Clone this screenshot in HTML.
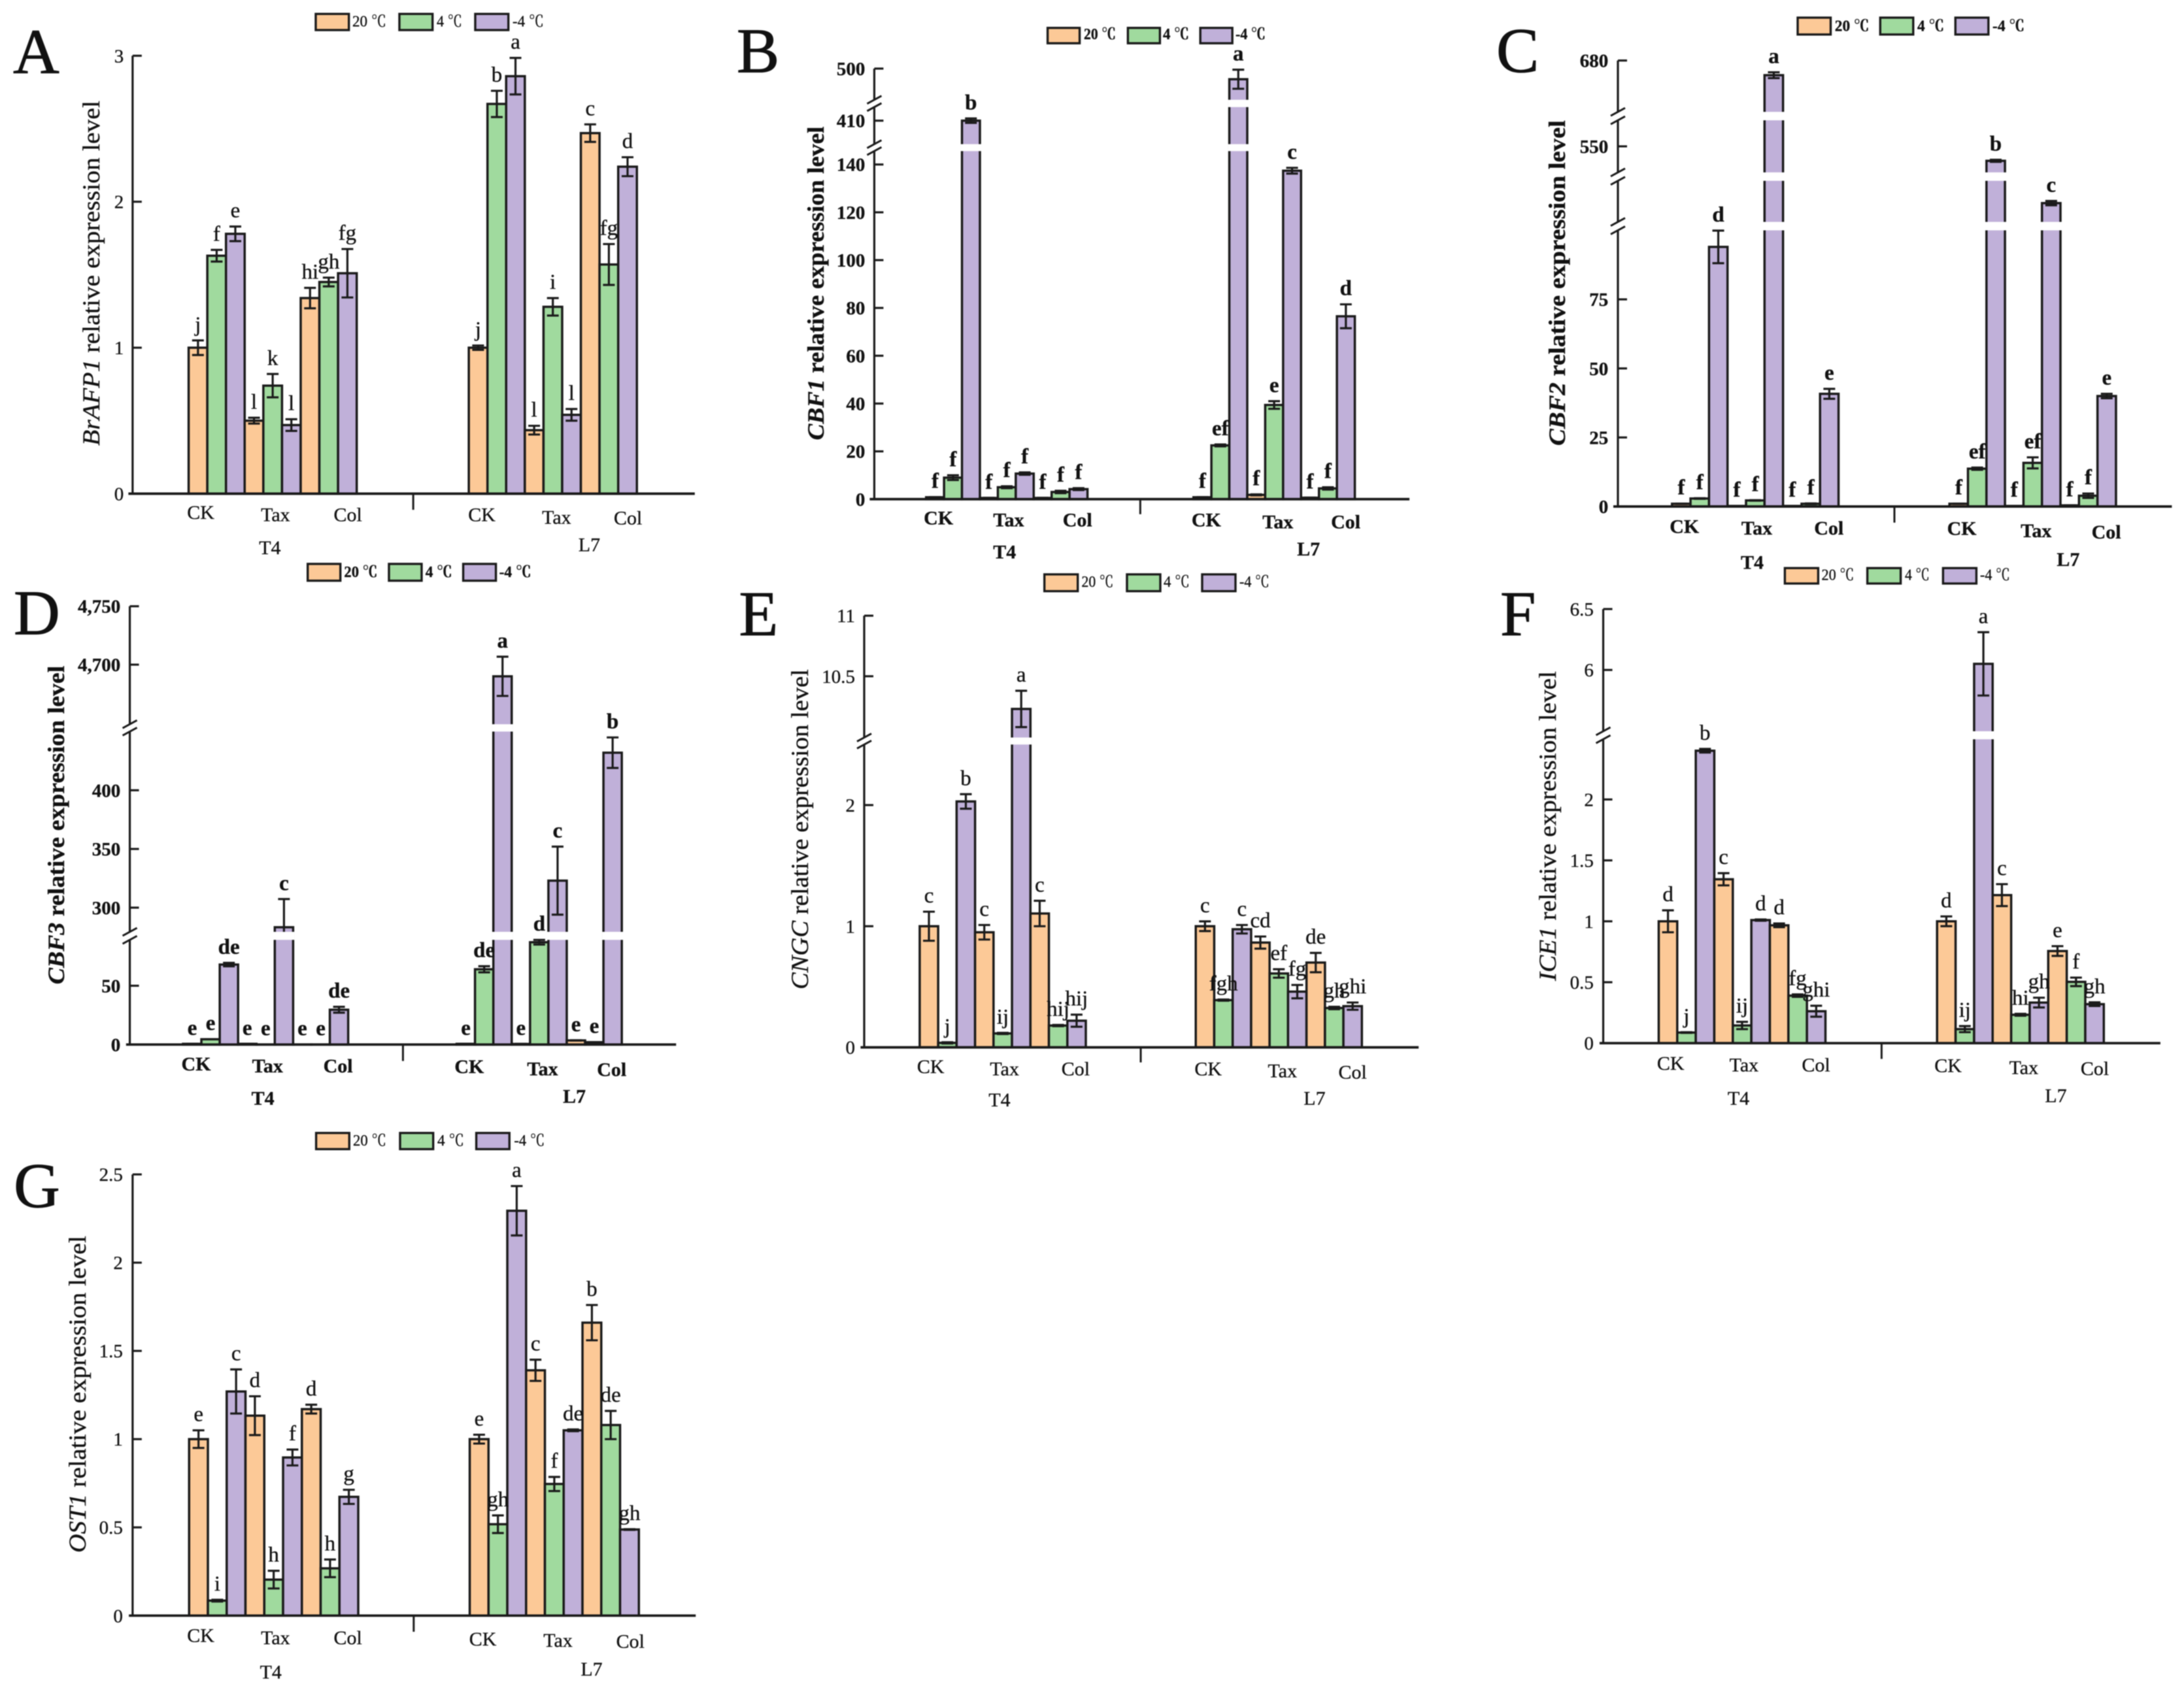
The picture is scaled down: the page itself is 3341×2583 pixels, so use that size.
<!DOCTYPE html>
<html lang="en">
<head>
<meta charset="utf-8">
<title>Relative expression levels of cold-response genes</title>
<style>
html,body{margin:0;padding:0;background:#fff;width:3341px;height:2583px;overflow:hidden}
svg{display:block;filter:blur(0.7px)}
text{font-family:"Liberation Serif","Noto Serif CJK SC",serif;fill:#111;stroke:#111;stroke-width:.35px}
.panel-letter{font-size:98px;stroke-width:1px}
.yt{font-size:37px}
.bold text,.bold{font-weight:bold}
.leg{font-size:24px}
.sw{stroke:#1a1a1a;stroke-width:3.4}
.o{fill:#FCC997}.g{fill:#A0DA9E}.p{fill:#C0B0D9}
</style>
</head>
<body>
<svg id="figure" xmlns="http://www.w3.org/2000/svg" width="3341" height="2583" viewBox="0 0 3341 2583">
<rect width="3341" height="2583" fill="#fff"/>

<g id="panel-a">
  <text class="panel-letter" x="20" y="112">A</text>
  <text class="yt" transform="translate(152,418) rotate(-90)" text-anchor="middle" textLength="528" lengthAdjust="spacingAndGlyphs"><tspan font-style="italic">BrAFP1</tspan> relative expression level</text>
  <g>
    <rect class="sw o" x="483" y="21.3" width="50.7" height="24.7"/><text class="leg" x="539" y="40.5" textLength="52" lengthAdjust="spacingAndGlyphs">20 ℃</text>
    <rect class="sw g" x="611" y="21.3" width="50.7" height="24.7"/><text class="leg" x="668" y="40.5" textLength="39" lengthAdjust="spacingAndGlyphs">4 ℃</text>
    <rect class="sw p" x="727" y="21.3" width="50.7" height="24.7"/><text class="leg" x="784" y="40.5" textLength="48" lengthAdjust="spacingAndGlyphs">-4 ℃</text>
  </g>
</g>

<g id="panel-b" class="bold">
  <text class="panel-letter" style="font-weight:normal" x="1127" y="110.6">B</text>
  <text class="yt" style="font-size:36px" transform="translate(1260,433.5) rotate(-90)" text-anchor="middle" textLength="480" lengthAdjust="spacingAndGlyphs"><tspan font-style="italic">CBF1</tspan> relative expression level</text>
  <g>
    <rect class="sw o" x="1602.6" y="42.7" width="49" height="23.5"/><text class="leg" x="1658" y="60" textLength="49" lengthAdjust="spacingAndGlyphs">20 ℃</text>
    <rect class="sw g" x="1725.4" y="42.7" width="49" height="23.5"/><text class="leg" x="1779" y="60" textLength="40" lengthAdjust="spacingAndGlyphs">4 ℃</text>
    <rect class="sw p" x="1836.2" y="42.7" width="49" height="23.5"/><text class="leg" x="1890" y="60" textLength="46" lengthAdjust="spacingAndGlyphs">-4 ℃</text>
  </g>
</g>

<g id="panel-c" class="bold">
  <text class="panel-letter" style="font-weight:normal" x="2289" y="110">C</text>
  <text class="yt" style="font-size:36px" transform="translate(2394,433) rotate(-90)" text-anchor="middle" textLength="498" lengthAdjust="spacingAndGlyphs"><tspan font-style="italic">CBF2</tspan> relative expression level</text>
  <g>
    <rect class="sw o" x="2750" y="27" width="50.5" height="25.8"/><text class="leg" x="2806.8" y="47.7" textLength="52.6" lengthAdjust="spacingAndGlyphs">20 ℃</text>
    <rect class="sw g" x="2876.3" y="27" width="50.5" height="25.8"/><text class="leg" x="2933" y="47.7" textLength="41" lengthAdjust="spacingAndGlyphs">4 ℃</text>
    <rect class="sw p" x="2991.3" y="27" width="50.5" height="25.8"/><text class="leg" x="3048" y="47.7" textLength="49" lengthAdjust="spacingAndGlyphs">-4 ℃</text>
  </g>
</g>

<g id="panel-d" class="bold">
  <text class="panel-letter" style="font-weight:normal" x="21" y="970.5">D</text>
  <text class="yt" style="font-size:36px" transform="translate(98,1262.5) rotate(-90)" text-anchor="middle" textLength="487.5" lengthAdjust="spacingAndGlyphs"><tspan font-style="italic">CBF3</tspan> relative expression level</text>
  <g>
    <rect class="sw o" x="470.7" y="862.9" width="50" height="25.7"/><text class="leg" x="526.4" y="883" textLength="51" lengthAdjust="spacingAndGlyphs">20 ℃</text>
    <rect class="sw g" x="595" y="862.9" width="50" height="25.7"/><text class="leg" x="650.7" y="883" textLength="41" lengthAdjust="spacingAndGlyphs">4 ℃</text>
    <rect class="sw p" x="708.6" y="862.9" width="50" height="25.7"/><text class="leg" x="763.6" y="883" textLength="49" lengthAdjust="spacingAndGlyphs">-4 ℃</text>
  </g>
</g>

<g id="panel-e">
  <text class="panel-letter" x="1130.5" y="972">E</text>
  <text class="yt" transform="translate(1236,1269) rotate(-90)" text-anchor="middle" textLength="490" lengthAdjust="spacingAndGlyphs"><tspan font-style="italic">CNGC</tspan> relative expression level</text>
  <g>
    <rect class="sw o" x="1597.7" y="878.9" width="51" height="25.7"/><text class="leg" x="1654.5" y="898" textLength="49" lengthAdjust="spacingAndGlyphs">20 ℃</text>
    <rect class="sw g" x="1724" y="878.9" width="51" height="25.7"/><text class="leg" x="1780" y="898" textLength="40" lengthAdjust="spacingAndGlyphs">4 ℃</text>
    <rect class="sw p" x="1839" y="878.9" width="51" height="25.7"/><text class="leg" x="1896" y="898" textLength="46" lengthAdjust="spacingAndGlyphs">-4 ℃</text>
  </g>
</g>

<g id="panel-f">
  <text class="panel-letter" x="2295" y="972">F</text>
  <text class="yt" transform="translate(2380,1264) rotate(-90)" text-anchor="middle" textLength="474" lengthAdjust="spacingAndGlyphs"><tspan font-style="italic">ICE1</tspan> relative expression level</text>
  <g>
    <rect class="sw o" x="2730.4" y="869.3" width="51" height="23.6"/><text class="leg" x="2786.5" y="887.5" textLength="50" lengthAdjust="spacingAndGlyphs">20 ℃</text>
    <rect class="sw g" x="2856.6" y="869.3" width="51" height="23.6"/><text class="leg" x="2914" y="887.5" textLength="38" lengthAdjust="spacingAndGlyphs">4 ℃</text>
    <rect class="sw p" x="2972.4" y="869.3" width="51" height="23.6"/><text class="leg" x="3029" y="887.5" textLength="46" lengthAdjust="spacingAndGlyphs">-4 ℃</text>
  </g>
</g>

<g id="panel-g">
  <text class="panel-letter" x="21" y="1847">G</text>
  <text class="yt" transform="translate(131,2133.5) rotate(-90)" text-anchor="middle" textLength="485" lengthAdjust="spacingAndGlyphs"><tspan font-style="italic">OST1</tspan> relative expression level</text>
  <g>
    <rect class="sw o" x="483.6" y="1733.7" width="50.7" height="24.7"/><text class="leg" x="540" y="1752.8" textLength="51" lengthAdjust="spacingAndGlyphs">20 ℃</text>
    <rect class="sw g" x="612" y="1733.7" width="50.7" height="24.7"/><text class="leg" x="669" y="1752.8" textLength="41" lengthAdjust="spacingAndGlyphs">4 ℃</text>
    <rect class="sw p" x="728.6" y="1733.7" width="50.7" height="24.7"/><text class="leg" x="786.4" y="1752.8" textLength="47" lengthAdjust="spacingAndGlyphs">-4 ℃</text>
  </g>
</g>
</svg>

<script>
// Shared categories. Series order in every array: T4 CK, T4 Tax, T4 Col, L7 CK, L7 Tax, L7 Col
const categories = ['CK', 'Tax', 'Col', 'CK', 'Tax', 'Col'];
const groups = ['T4', 'L7'];

// Panel A: BrAFP1
const aValues20 = [1.00, 0.50, 1.34, 1.00, 0.435, 2.47];
const aValues4 = [1.63, 0.74, 1.45, 2.67, 1.28, 1.57];
const aValuesM4 = [1.78, 0.47, 1.51, 2.86, 0.54, 2.24];
const aErrors20 = [0.05, 0.02, 0.07, 0.015, 0.03, 0.06];
const aErrors4 = [0.04, 0.08, 0.03, 0.09, 0.06, 0.14];
const aErrorsM4 = [0.05, 0.04, 0.166, 0.125, 0.04, 0.065];
const aLetters20 = ['j', 'l', 'hi', 'j', 'l', 'c'];
const aLetters4 = ['f', 'k', 'gh', 'b', 'i', 'fg'];
const aLettersM4 = ['e', 'l', 'fg', 'a', 'l', 'd'];
const aTicks = [0, 1, 2, 3];
const aTickLabels = ['0', '1', '2', '3'];

// Panel B: CBF1
const bValues20 = [0.8, 0.5, 0.5, 0.8, 1.8, 0.6];
const bValues4 = [9, 5, 3, 22.5, 39.4, 4.5];
const bValuesM4 = [410, 10.7, 4.2, 485.5, 137.4, 76.5];
const bErrors20 = [0.05, 0.05, 0.05, 0.05, 0.2, 0.05];
const bErrors4 = [1, 0.4, 0.5, 0.4, 1.6, 0.5];
const bErrorsM4 = [3, 0.5, 0.4, 13, 1.2, 5];
const bLetters20 = ['f', 'f', 'f', 'f', 'f', 'f'];
const bLetters4 = ['f', 'f', 'f', 'ef', 'e', 'f'];
const bLettersM4 = ['b', 'f', 'f', 'a', 'c', 'd'];
const bTicks = [0, 20, 40, 60, 80, 100, 120, 140, 410, 500];
const bTickLabels = ['0', '20', '40', '60', '80', '100', '120', '140', '410', '500'];

// Panel C: CBF2
const cValues20 = [1, 0.2, 0.2, 1, 0.2, 0.4];
const cValues4 = [2.9, 2.2, 1, 13.7, 15.8, 3.9];
const cValuesM4 = [94, 670, 40.8, 540, 482, 40];
const cErrors20 = [0.05, 0, 0, 0.05, 0, 0];
const cErrors4 = [0.1, 0.1, 0.1, 0.4, 2, 0.8];
const cErrorsM4 = [5.9, 2, 1.8, 0.7, 3.7, 0.8];
const cLetters20 = ['f', 'f', 'f', 'f', 'f', 'f'];
const cLetters4 = ['f', 'f', 'f', 'ef', 'ef', 'f'];
const cLettersM4 = ['d', 'a', 'e', 'b', 'c', 'e'];
const cTicks = [0, 25, 50, 75, 550, 680];
const cTickLabels = ['0', '25', '50', '75', '550', '680'];

// Panel D: CBF3
const dValues20 = [0.6, 0.6, 0.1, 0.6, 0.5, 3.5];
const dValues4 = [4.5, 0.1, 0.1, 64, 87, 2];
const dValuesM4 = [68, 283.3, 29.6, 4690, 323, 432];
const dErrors20 = [0, 0, 0, 0, 0, 0.1];
const dErrors4 = [0.1, 0, 0, 2.6, 2, 0.1];
const dErrorsM4 = [1.5, 24, 2.5, 16.8, 29, 13];
const dLetters20 = ['e', 'e', 'e', 'e', 'e', 'e'];
const dLetters4 = ['e', 'e', 'e', 'de', 'd', 'e'];
const dLettersM4 = ['de', 'c', 'de', 'a', 'c', 'b'];
const dTicks = [0, 50, 300, 350, 400, 4700, 4750];
const dTickLabels = ['0', '50', '300', '350', '400', '4,700', '4,750'];

// Panel E: CNGC
const eValues20 = [1.0, 0.95, 1.105, 1.0, 0.865, 0.70];
const eValues4 = [0.037, 0.115, 0.18, 0.39, 0.61, 0.325];
const eValuesM4 = [2.03, 10.23, 0.22, 0.975, 0.46, 0.34];
const eErrors20 = [0.12, 0.06, 0.105, 0.04, 0.05, 0.08];
const eErrors4 = [0.005, 0.005, 0.005, 0.005, 0.035, 0.01];
const eErrorsM4 = [0.06, 0.15, 0.05, 0.035, 0.055, 0.03];
const eLetters20 = ['c', 'c', 'c', 'c', 'cd', 'de'];
const eLetters4 = ['j', 'ij', 'hij', 'fgh', 'ef', 'gh'];
const eLettersM4 = ['b', 'a', 'hij', 'c', 'fg', 'ghi'];
const eTicks = [0, 1, 2, 10.5, 11];
const eTickLabels = ['0', '1', '2', '10.5', '11'];

// Panel F: ICE1
const fValues20 = [1.0, 1.345, 0.967, 1.0, 1.215, 0.756];
const fValues4 = [0.087, 0.145, 0.39, 0.115, 0.233, 0.503];
const fValuesM4 = [2.4, 1.01, 0.262, 6.05, 0.333, 0.32];
const fErrors20 = [0.09, 0.05, 0.015, 0.04, 0.09, 0.04];
const fErrors4 = [0.003, 0.03, 0.01, 0.025, 0.008, 0.035];
const fErrorsM4 = [0.015, 0.005, 0.045, 0.26, 0.04, 0.015];
const fLetters20 = ['d', 'c', 'd', 'd', 'c', 'e'];
const fLetters4 = ['j', 'ij', 'fg', 'ij', 'hi', 'f'];
const fLettersM4 = ['b', 'd', 'ghi', 'a', 'gh', 'gh'];
const fTicks = [0, 0.5, 1, 1.5, 2, 6, 6.5];
const fTickLabels = ['0', '0.5', '1', '1.5', '2', '6', '6.5'];

// Panel G: OST1
const gValues20 = [1.0, 1.133, 1.17, 1.0, 1.39, 1.66];
const gValues4 = [0.085, 0.204, 0.268, 0.518, 0.746, 1.08];
const gValuesM4 = [1.27, 0.896, 0.673, 2.294, 1.05, 0.488];
const gErrors20 = [0.05, 0.11, 0.025, 0.025, 0.06, 0.1];
const gErrors4 = [0.005, 0.05, 0.05, 0.05, 0.04, 0.08];
const gErrorsM4 = [0.125, 0.045, 0.04, 0.14, 0.005, 0.002];
const gLetters20 = ['e', 'd', 'd', 'e', 'c', 'b'];
const gLetters4 = ['i', 'h', 'h', 'gh', 'f', 'de'];
const gLettersM4 = ['c', 'f', 'g', 'a', 'de', 'gh'];
const gTicks = [0, 0.5, 1, 1.5, 2, 2.5];
const gTickLabels = ['0', '0.5', '1', '1.5', '2', '2.5'];

const seriesFill = ['#FCC997', '#A0DA9E', '#C0B0D9'];
const INK = '#1a1a1a';
const SVGNS = 'http://www.w3.org/2000/svg';

function shape(parent, tag, attrs) {
  const el = document.createElementNS(SVGNS, tag);
  for (const k in attrs) el.setAttribute(k, attrs[k]);
  parent.appendChild(el);
  return el;
}

// Axis geometry for each panel (crop-space coordinates converted through ox/oy/kx/ky)
const panels = [
  { id: 'panel-a', ox: 0, oy: 0, kx: 1.4, ky: 1.7818, axisX: 284, xLeft: 275, xRight: 1488, t4: 404, l7: 1004, bw: 40, sep: 885, sepEnd: 1390,
    segs: [{ d0: 0, d1: 3, p0: 1346, p1: 152 }], labelRight: 265,
    catPos: [[430, 1397], [590, 1403], [745, 1403], [1032, 1403], [1192, 1410], [1345, 1412]], groupPos: [[578, 1493], [1262, 1485]],
    v: [aValues20, aValues4, aValuesM4], e: [aErrors20, aErrors4, aErrorsM4], l: [aLetters20, aLetters4, aLettersM4], ticks: aTicks, tickLabels: aTickLabels },
  { id: 'panel-b', bold: true, ox: 1120, oy: 0, kx: 1.4255, ky: 1.7818, axisX: 310, xLeft: 300, xRight: 1477, t4: 423, l7: 1006, bw: 39.1, sep: 890, sepEnd: 1402,
    segs: [{ d0: 0, d1: 145.6, p0: 1361, p1: 412 }, { d0: 378, d1: 428.5, p0: 393, p1: 292 }, { d0: 457.5, d1: 500, p0: 272, p1: 187 }], labelRight: 290,
    catPos: [[450, 1412], [603, 1417], [753, 1417], [1034, 1417], [1190, 1423], [1338, 1423]], groupPos: [[594, 1505], [1257, 1497]],
    v: [bValues20, bValues4, bValuesM4], e: [bErrors20, bErrors4, bErrorsM4], l: [bLetters20, bLetters4, bLettersM4], ticks: bTicks, tickLabels: bTickLabels },
  { id: 'panel-c', bold: true, ox: 2240, oy: 0, kx: 1.4255, ky: 1.7818, axisX: 335, xLeft: 325, xRight: 1543, t4: 453, l7: 1058, bw: 40.35, sep: 938, sepEnd: 1425,
    segs: [{ d0: 0, d1: 100, p0: 1381, p1: 628 }, { d0: 450, d1: 520, p0: 605, p1: 493 }, { d0: 532, d1: 568, p0: 470, p1: 328 }, { d0: 645, d1: 680, p0: 305, p1: 165 }], labelRight: 314,
    catPos: [[480, 1435], [638, 1440], [795, 1440], [1085, 1441], [1247, 1447], [1400, 1450]], groupPos: [[628, 1533], [1317, 1525]],
    v: [cValues20, cValues4, cValuesM4], e: [cErrors20, cErrors4, cErrorsM4], l: [cLetters20, cLetters4, cLettersM4], ticks: cTicks, tickLabels: cTickLabels },
  { id: 'panel-d', bold: true, ox: 0, oy: 850, kx: 1.4, ky: 1.8667, axisX: 278, xLeft: 270, xRight: 1448, t4: 392, l7: 978, bw: 39.3, sep: 863, sepEnd: 1444,
    segs: [{ d0: 0, d1: 89, p0: 1397, p1: 1098 }, { d0: 279.4, d1: 450, p0: 1075, p1: 503 }, { d0: 4649, d1: 4750, p0: 482, p1: 145 }], labelRight: 258,
    catPos: [[420, 1452], [573, 1458], [724, 1458], [1005, 1460], [1162, 1466], [1310, 1468]], groupPos: [[563, 1550], [1230, 1545]],
    v: [dValues20, dValues4, dValuesM4], e: [dErrors20, dErrors4, dErrorsM4], l: [dLetters20, dLetters4, dLettersM4], ticks: dTicks, tickLabels: dTickLabels },
  { id: 'panel-e', ox: 1120, oy: 850, kx: 1.4255, ky: 1.8667, axisX: 288, xLeft: 280, xRight: 1497, t4: 409, l7: 1011, bw: 40.25, sep: 891, sepEnd: 1448,
    segs: [{ d0: 0, d1: 2.5, p0: 1405, p1: 540 }, { d0: 9.994, d1: 11, p0: 520, p1: 172 }], labelRight: 268,
    catPos: [[433, 1460], [594, 1466], [749, 1466], [1038, 1466], [1200, 1472], [1353, 1476]], groupPos: [[583, 1555], [1270, 1550]],
    v: [eValues20, eValues4, eValuesM4], e: [eErrors20, eErrors4, eErrorsM4], l: [eLetters20, eLetters4, eLettersM4], ticks: eTicks, tickLabels: eTickLabels },
  { id: 'panel-f', ox: 2240, oy: 850, kx: 1.4255, ky: 1.8667, axisX: 303, xLeft: 295, xRight: 1518, t4: 424, l7: 1031, bw: 40.4, sep: 910, sepEnd: 1438,
    segs: [{ d0: 0, d1: 2.494, p0: 1393, p1: 525 }, { d0: 5.497, d1: 6.5, p0: 502, p1: 153 }], labelRight: 282,
    catPos: [[450, 1450], [610, 1455], [767, 1455], [1055, 1457], [1220, 1463], [1375, 1465]], groupPos: [[598, 1550], [1290, 1543]],
    v: [fValues20, fValues4, fValuesM4], e: [fErrors20, fErrors4, fErrorsM4], l: [fLetters20, fLetters4, fLettersM4], ticks: fTicks, tickLabels: fTickLabels },
  { id: 'panel-g', ox: 0, oy: 1700, kx: 1.4, ky: 1.7818, axisX: 284, xLeft: 276, xRight: 1490, t4: 405, l7: 1006, bw: 40.25, sep: 886, sepEnd: 1420,
    segs: [{ d0: 0, d1: 2.5, p0: 1376, p1: 173 }], labelRight: 263,
    catPos: [[430, 1430], [590, 1436], [745, 1436], [1034, 1440], [1195, 1443], [1350, 1446]], groupPos: [[580, 1530], [1267, 1522]],
    v: [gValues20, gValues4, gValuesM4], e: [gErrors20, gErrors4, gErrorsM4], l: [gLetters20, gLetters4, gLettersM4], ticks: gTicks, tickLabels: gTickLabels }
];

function drawPanel(P) {
  const root = document.getElementById(P.id);
  const X = z => P.ox + z / P.kx;
  const Y = z => P.oy + z / P.ky;
  const segFor = v => {
    for (const s of P.segs) { if (v <= s.d1) return s; }
    return P.segs[P.segs.length - 1];
  };
  const mapIn = (s, v) => s.p0 + (v - s.d0) / (s.d1 - s.d0) * (s.p1 - s.p0);
  const yScale = v => Y(mapIn(segFor(v), v));
  const baseY = Y(P.segs[0].p0);
  const barW = P.bw / P.kx;
  const barX = (c, s) => X((c < 3 ? P.t4 : P.l7) + ((c % 3) * 3 + s) * P.bw);
  const fw = P.bold ? 'bold' : 'normal';

  // y axis line
  const yAxis = shape(root, 'line', { x1: X(P.axisX), x2: X(P.axisX), y1: baseY, y2: Y(P.segs[P.segs.length - 1].p1), stroke: INK, 'stroke-width': 3.2 });
  
  

  // ticks and tick labels
  P.ticks.forEach((t, i) => {
    const y = yScale(t);
    const tick = shape(root, 'line', { x1: X(P.axisX), x2: X(P.axisX) + 14, y1: y, y2: y, stroke: INK, 'stroke-width': 3.2 });
    
    
    const lab = shape(root, 'text', { x: X(P.labelRight), y: y + 10, 'text-anchor': 'end', 'font-size': 29, 'font-weight': fw });
    lab.textContent = P.tickLabels[i];
    
    
  });

  // bars
  for (let c = 0; c < categories.length; c++) {
    for (let s = 0; s < 3; s++) {
      const top = yScale(P.v[s][c]);
      const bar = shape(root, 'rect', { x: barX(c, s), y: top, width: barW, height: Math.max(baseY - top, 0), fill: seriesFill[s], stroke: INK, 'stroke-width': 3.5 });
      
      
    }
  }

  // axis-break gaps through tall bars and the y axis
  for (let k = 0; k + 1 < P.segs.length; k++) {
    const gapBottom = Y(P.segs[k].p1);
    const gapTop = Y(P.segs[k + 1].p0);
    for (let c = 0; c < categories.length; c++) {
      for (let s = 0; s < 3; s++) {
        if (yScale(P.v[s][c]) < gapTop) {
          const gap = shape(root, 'rect', { x: barX(c, s) - 2, y: gapTop, width: barW + 4, height: gapBottom - gapTop, fill: '#fff' });
          
          
        }
      }
    }
    const axisGap = shape(root, 'rect', { x: X(P.axisX) - 3, y: gapTop, width: 6, height: gapBottom - gapTop, fill: '#fff' });
    
    
    [gapTop, gapBottom].forEach(py => {
      const slash = shape(root, 'line', { x1: X(P.axisX) - 11, x2: X(P.axisX) + 11, y1: py + 6, y2: py - 6, stroke: INK, 'stroke-width': 3 });
      
      
    });
  }

  // error bars and significance letters
  for (let c = 0; c < categories.length; c++) {
    for (let s = 0; s < 3; s++) {
      const val = P.v[s][c];
      const err = P.e[s][c];
      const seg = segFor(val);
      const cx = barX(c, s) + barW / 2;
      const rawUp = mapIn(seg, val + err);
      const rawDown = mapIn(seg, val - err);
      const pUp = Math.max(rawUp, Math.min(seg.p0, seg.p1));
      const pDown = Math.min(rawDown, Math.max(seg.p0, seg.p1));
      const yUp = Y(pUp);
      const yDown = Y(pDown);
      const stem = shape(root, 'line', { x1: cx, x2: cx, y1: yUp, y2: yDown, stroke: INK, 'stroke-width': 3.2 });
      
      
      if (pUp === rawUp) {
        const capTop = shape(root, 'line', { x1: cx - 9, x2: cx + 9, y1: yUp, y2: yUp, stroke: INK, 'stroke-width': 3.2 });
        
        
      }
      if (pDown === rawDown) {
        const capBottom = shape(root, 'line', { x1: cx - 9, x2: cx + 9, y1: yDown, y2: yDown, stroke: INK, 'stroke-width': 3.2 });
        
        
      }
      const letter = shape(root, 'text', { x: cx, y: yUp - 14, 'text-anchor': 'middle', 'font-size': 33, 'font-weight': fw });
      letter.textContent = P.l[s][c];
      
      
    }
  }

  // x axis and group separator
  const xAxis = shape(root, 'line', { x1: X(P.xLeft), x2: X(P.xRight), y1: baseY, y2: baseY, stroke: INK, 'stroke-width': 3.8 });
  
  
  const sep = shape(root, 'line', { x1: X(P.sep), x2: X(P.sep), y1: baseY, y2: Y(P.sepEnd), stroke: INK, 'stroke-width': 3 });
  
  

  // category and group labels
  categories.forEach((name, i) => {
    const t = shape(root, 'text', { x: X(P.catPos[i][0]), y: Y(P.catPos[i][1]) + 10, 'text-anchor': 'middle', 'font-size': 30, 'font-weight': fw });
    t.textContent = name;
    
    
  });
  groups.forEach((name, i) => {
    const t = shape(root, 'text', { x: X(P.groupPos[i][0]), y: Y(P.groupPos[i][1]) + 10, 'text-anchor': 'middle', 'font-size': 30, 'font-weight': fw });
    t.textContent = name;
    
    
  });
}

panels.forEach(drawPanel);
</script>
</body>
</html>
